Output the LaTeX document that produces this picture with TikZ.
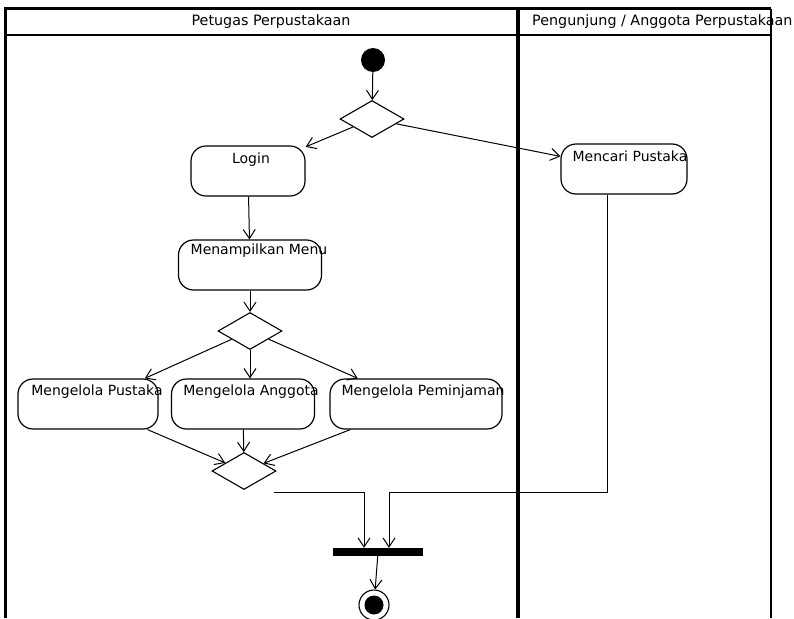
\documentclass[tikz,border=0pt]{standalone}
\usepackage{fontspec}
\setmainfont{DejaVu Sans}
\usetikzlibrary{arrows.meta,shapes.geometric}

\begin{document}
\begin{tikzpicture}[x=1pt,y=-1pt,font=\fontsize{14}{16}\selectfont,
  flow/.style={line width=1pt,-{Straight Barb[length=9pt,width=12pt]}},
  act/.style={draw,line width=1.2pt,rounded corners=15pt,minimum height=50pt,inner sep=0pt},
  choice/.style={draw,diamond,line width=1.1pt,minimum width=64pt,minimum height=37pt,inner sep=0pt},
  lbl/.style={inner sep=0pt},
  lanehead/.style={inner sep=0pt,font=\fontsize{14.3}{17}\selectfont},
  startdot/.style={circle,fill,minimum size=24pt,inner sep=0pt},
  stopring/.style={circle,draw,line width=1.1pt,minimum size=30pt,inner sep=0pt},
  stopdot/.style={circle,fill,minimum size=19pt,inner sep=0pt},
  bar/.style={fill,minimum width=90pt,minimum height=8pt,inner sep=0pt}]
\path[use as bounding box] (0,0) rectangle (794,618);
% swimlanes
\draw[line width=3pt] (5,618) -- (5,9) -- (771,9);
\draw[line width=1.6pt] (5,35) -- (771,35);
\draw[line width=4pt] (518,9) -- (518,618);
\draw[line width=1.6pt] (771,9) -- (771,618);
\node[lanehead] (lane1) at (271,22) {Petugas Perpustakaan};
\node[lanehead,anchor=west] (lane2) at (532,22) {Pengunjung / Anggota Perpustakaan};
% activities and decisions
\node[startdot] (start) at (373,60) {};
\node[choice] (dec1) at (372,119) {};
\node[act,minimum width=114pt] (login) at (248,171) {};
\node[act,minimum width=126pt] (cari) at (624,169) {};
\node[act,minimum width=143pt] (menu) at (250,265) {};
\node[choice] (dec2) at (250,331) {};
\node[act,minimum width=140pt] (pustaka) at (88,404) {};
\node[act,minimum width=143pt] (anggota) at (243,404) {};
\node[act,minimum width=172pt] (pinjam) at (416,404) {};
\node[choice] (dec3) at (244,471) {};
\node[bar] (join) at (378,552) {};
\node[stopring] (stop) at (374,605) {};
\node[stopdot] (stopin) at (stop) {};
% labels sit near the top of each box
\node[lbl] (login-t) at ([xshift=3pt,yshift=-14pt]login.north) {Login};
\node[lbl] (cari-t) at ([xshift=6pt,yshift=-13pt]cari.north) {Mencari Pustaka};
\node[lbl] (menu-t) at ([xshift=9pt,yshift=-11pt]menu.north) {Menampilkan Menu};
\node[lbl] (pustaka-t) at ([xshift=9pt,yshift=-13pt]pustaka.north) {Mengelola Pustaka};
\node[lbl] (anggota-t) at ([xshift=8pt,yshift=-13pt]anggota.north) {Mengelola Anggota};
\node[lbl] (pinjam-t) at ([xshift=7pt,yshift=-13pt]pinjam.north) {Mengelola Peminjaman};
% flows
\draw[flow] (start) -- (dec1);
\draw[flow] (dec1) -- (login);
\draw[flow] (dec1) -- (cari);
\draw[flow] (login) -- (menu);
\draw[flow] (menu) -- (dec2);
\draw[flow] (dec2) -- (pustaka);
\draw[flow] (dec2.south) -- (dec2.south |- anggota.north);
\draw[flow] (dec2) -- (pinjam);
\draw[flow] (pustaka) -- (dec3);
\draw[flow] (anggota) -- (dec3);
\draw[flow] (pinjam) -- (dec3);
\coordinate (merge) at (274,492);
\draw[flow] (merge) -| ([xshift=-14pt]join.north);
\draw[flow] ([xshift=-17pt]cari.south) |- ([xshift=11pt]join.north |- merge) -- ([xshift=11pt]join.north);
\draw[flow] (join) -- (stop);
\end{tikzpicture}
\end{document}
